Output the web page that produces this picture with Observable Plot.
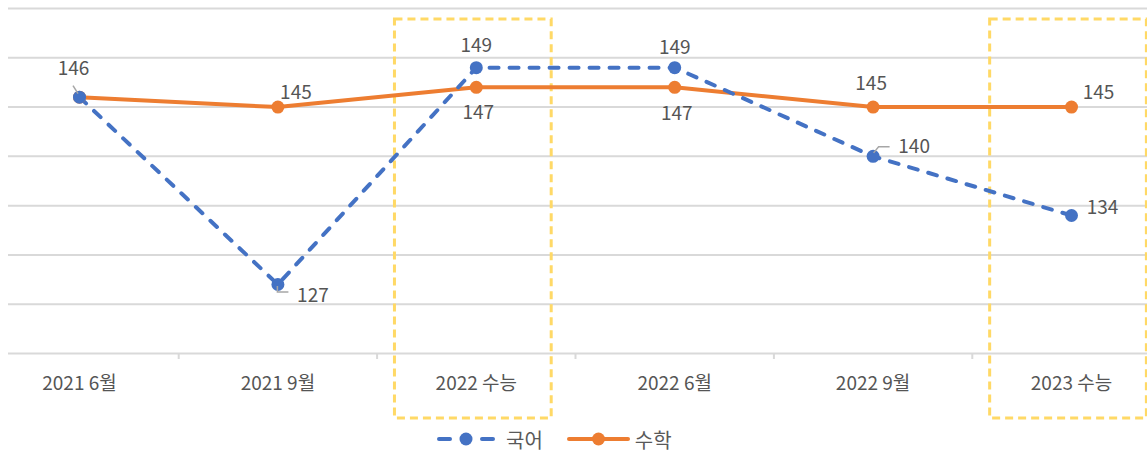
<!DOCTYPE html>
<html>
<head>
<meta charset="utf-8">
<script src="https://cdn.jsdelivr.net/npm/d3@7"></script>
<script src="https://cdn.jsdelivr.net/npm/@observablehq/plot@0.6"></script>
<style>
  body { margin: 0; background: #fff; font-family: "Noto Sans CJK KR", "Noto Sans", sans-serif; }
  #chart svg { overflow: visible; display: block; }
  #legend { display: flex; align-items: center; height: 38px; padding-left: 437px; color: #595959; font-size: 20px; }
  #legend .item { display: flex; align-items: center; }
  #legend svg { display: block; }
</style>
</head>
<body>
<div id="chart"></div>
<div id="legend"></div>
<script>
// Exam sessions and standard-score maxima for each subject
const categories = ["2021 6월", "2021 9월", "2022 수능", "2022 6월", "2022 9월", "2023 수능"];
const korean = [146, 127, 149, 149, 140, 134];   // 국어
const math = [146, 145, 147, 147, 145, 145];     // 수학
const yTicks = [120, 125, 130, 135, 140, 145, 150, 155];
const highlighted = ["2022 수능", "2023 수능"];

// Label placement (pixel offsets from each point); null = no label
const koreanLabelOffsets = [[-6, -28], [35, 11], [0, -22], [0, -20], [41, -9], [31, -8]];
const mathLabelOffsets = [null, [18, -14], [2, 26], [2, 27], [-2, -23], [27, -14]];
// Leader lines drawn from a point toward its label (pixel offsets)
const koreanLeaders = [
  [0, [[-6, -11], [-1, -3]]],
  [1, [[0, 2], [0, 8], [11, 8]]],
  [4, [[1, -3], [6, -9], [17, -9]]]
];

const BLUE = "#4472C4";
const ORANGE = "#ED7D31";
const TEXT = "#555555";
const GRID = "#D9D9D9";

const series = [
  {name: "국어", values: korean, color: BLUE, offsets: koreanLabelOffsets},
  {name: "수학", values: math, color: ORANGE, offsets: mathLabelOffsets}
];
const rows = series.flatMap(s => s.values.map((v, i) => ({series: s.name, i, v})));

const labelMarks = series.flatMap(s =>
  s.values.map((v, i) => s.offsets[i] == null ? null :
    Plot.text([{i, v}], {
      x: "i", y: "v", text: d => String(d.v),
      dx: s.offsets[i][0], dy: s.offsets[i][1],
      fill: TEXT, fontSize: 19, textAnchor: "middle", lineAnchor: "middle"
    })
  ).filter(Boolean)
);

function leaderMark(index, scales) {
  const g = d3.create("svg:g")
    .attr("fill", "none").attr("stroke", "#a6a6a6").attr("stroke-width", 1.5);
  for (const [i, path] of koreanLeaders) {
    const px = scales.x(i), py = scales.y(korean[i]);
    g.append("path").attr("d", d3.line()(path.map(([a, b]) => [px + a, py + b])));
  }
  return g.node();
}

const chart = Plot.plot({
  width: 1147,
  height: 420,
  marginTop: 8,
  marginBottom: 67,
  marginLeft: 8,
  marginRight: 0,
  style: {fontFamily: '"Noto Sans CJK KR", "Noto Sans", sans-serif', background: "#fff"},
  x: {type: "linear", domain: [0, categories.length - 1], range: [79, 1071], axis: null},
  y: {domain: [120, 155], axis: null},
  marks: [
    Plot.ruleY(yTicks, {stroke: GRID, strokeWidth: 2}),
    Plot.axisX({
      ticks: d3.range(categories.length - 1).map(i => i + 0.5),
      tickSize: 6, tickFormat: () => "", stroke: GRID, strokeWidth: 2, label: null
    }),
    Plot.axisX({
      ticks: d3.range(categories.length),
      tickSize: 0, tickPadding: 23, tickFormat: i => categories[i],
      fontSize: 19, color: TEXT, label: null
    }),
    Plot.rect(highlighted, {
      x1: d => categories.indexOf(d) - 0.41,
      x2: d => categories.indexOf(d) + 0.38,
      insetTop: 11, insetBottom: -65,
      fill: "none", stroke: "#FFD966", strokeWidth: 3, strokeDasharray: "8,5"
    }),
    Plot.line(rows.filter(d => d.series === "수학"), {
      x: "i", y: "v", stroke: ORANGE, strokeWidth: 4, strokeLinejoin: "round"
    }),
    Plot.line(rows.filter(d => d.series === "국어"), {
      x: "i", y: "v", stroke: BLUE, strokeWidth: 4, strokeDasharray: "9,11",
      strokeLinecap: "round"
    }),
    Plot.dot(rows.filter(d => d.series === "수학"), {x: "i", y: "v", r: 6.5, fill: ORANGE, stroke: "none"}),
    Plot.dot(rows.filter(d => d.series === "국어"), {x: "i", y: "v", r: 6.5, fill: BLUE, stroke: "none"}),
    leaderMark,
    ...labelMarks
  ]
});
document.getElementById("chart").append(chart);

// Legend below the chart
const legend = d3.select("#legend");
series.forEach((s, k) => {
  const item = legend.append("div").attr("class", "item")
    .style("margin-left", k === 0 ? "0px" : "24px");
  const w = k === 0 ? 58 : 63;
  const sw = item.append("svg").attr("width", w).attr("height", 16);
  sw.append("line").attr("x1", 2).attr("x2", w - 2).attr("y1", 8).attr("y2", 8)
    .attr("stroke", s.color).attr("stroke-width", 4)
    .attr("stroke-linecap", "round")
    .attr("stroke-dasharray", k === 0 ? "11,32" : null);
  sw.append("circle").attr("cx", w / 2).attr("cy", 8).attr("r", 6.5).attr("fill", s.color);
  item.append("span").text(s.name).style("margin-left", k === 0 ? "11px" : "5px");
});
</script>
</body>
</html>
